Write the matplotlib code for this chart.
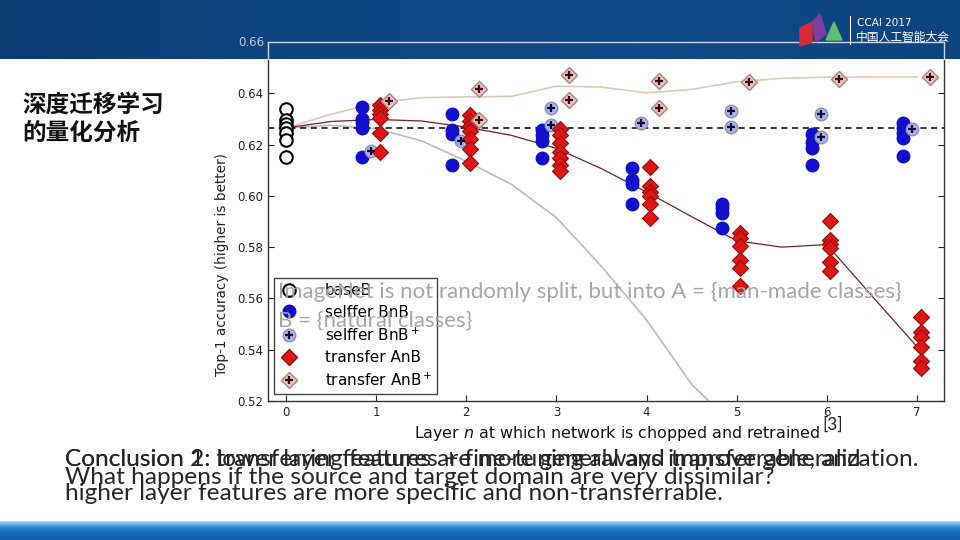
import numpy as np
import matplotlib
matplotlib.use("Agg")
import matplotlib.pyplot as plt
from matplotlib.lines import Line2D
from matplotlib.legend_handler import HandlerTuple
from matplotlib.patches import Polygon
from matplotlib.colors import LinearSegmentedColormap

# данные
layers = [1, 2, 3, 4, 5, 6, 7]
baseB = [0.6340, 0.6295, 0.6279, 0.6264, 0.6244, 0.6219, 0.6151]
base_mean = 0.6265

selffer_bnb = [
    [0.6348, 0.6299, 0.6287, 0.6266, 0.6153],
    [0.6318, 0.6256, 0.6243, 0.6120],
    [0.6256, 0.6236, 0.6213, 0.6148],
    [0.6107, 0.6061, 0.6048, 0.5970],
    [0.5968, 0.5951, 0.5934, 0.5873],
    [0.6243, 0.6210, 0.6185, 0.6120],
    [0.6286, 0.6265, 0.6245, 0.6224, 0.6156],
]
selffer_bnb_plus = [
    [0.6175], [0.6214], [0.6343, 0.6278], [0.6286],
    [0.6330, 0.6269], [0.6318, 0.6230], [0.6262],
]
transfer_anb = [
    [0.6353, 0.6334, 0.6318, 0.6303, 0.6245, 0.6170],
    [0.6316, 0.6293, 0.6273, 0.6252, 0.6221, 0.6182, 0.6128],
    [0.6262, 0.6236, 0.6205, 0.6172, 0.6149, 0.6121, 0.6096],
    [0.6113, 0.6038, 0.6015, 0.5999, 0.5968, 0.5912],
    [0.5857, 0.5834, 0.5804, 0.5749, 0.5717, 0.5648],
    [0.5902, 0.5827, 0.5812, 0.5796, 0.5743, 0.5707],
    [0.5526, 0.5468, 0.5451, 0.5412, 0.5357, 0.5327],
]
transfer_anb_plus = [
    [0.6370], [0.6416, 0.6295], [0.6473, 0.6373], [0.6447, 0.6344],
    [0.6444], [0.6457], [0.6464],
]

# линии тренда (точки через 0.5 слоя)
trend_x = [0, 0.5, 1, 1.5, 2, 2.5, 3, 3.5, 4, 4.5, 5, 5.5, 6, 6.5, 7]
anb_trend = [0.6265, 0.6290, 0.6298, 0.6292, 0.6268, 0.6236, 0.6185, 0.6106,
             0.6015, 0.5919, 0.5825, 0.5800, 0.5810, 0.5610, 0.5412]
anb_plus_trend = [0.6265, 0.6318, 0.6362, 0.6383, 0.6386, 0.6388, 0.6428, 0.6424,
                  0.6402, 0.6415, 0.6445, 0.6458, 0.6463, 0.6464, 0.6464]
gray_x = [0, 0.5, 1, 1.5, 2, 2.5, 3, 3.5, 4, 4.5, 4.75]
gray_trend = [0.6265, 0.6275, 0.6262, 0.6215, 0.6135, 0.6045, 0.5915, 0.5725,
              0.5516, 0.5265, 0.5180]

legend_labels = ["baseB", "selffer BnB", "selffer BnB$^+$", "transfer AnB", "transfer AnB$^+$"]

C_BLUE = "#0f0fcc"
C_BLUE_L = "#aeb2dc"
C_RED = "#dd1515"
C_PINK = "#e6c4c0"
CJK = ["Noto Sans CJK SC", "DejaVu Sans"]

fig = plt.figure(figsize=(9.6, 5.4), dpi=100)
fig.patch.set_facecolor("white")

ax = fig.add_axes([268 / 960, 1 - 401 / 540, 676 / 960, 359 / 540], zorder=1)

# линии
ax.plot(gray_x, gray_trend, color="#b9b9c6", lw=1.2, zorder=1)
ax.plot(trend_x, anb_plus_trend, color="#e2c8b8", lw=1.2, zorder=1)
ax.plot(trend_x, anb_trend, color="#7a1f1f", lw=0.9, zorder=2)
ax.axhline(base_mean, color="black", ls="--", lw=1.1, dashes=(4, 3), zorder=2)

# точки
ax.plot([0] * len(baseB), baseB, "o", ms=9, mfc="white", mec="black", mew=1.5, zorder=3)
for n, vals in zip(layers, selffer_bnb):
    ax.plot([n - 0.16] * len(vals), vals, "o", ms=9, color=C_BLUE, mec=C_BLUE, zorder=3)
for n, vals in zip(layers, selffer_bnb_plus):
    ax.plot([n - 0.06] * len(vals), vals, "o", ms=9, mfc=C_BLUE_L, mec="#8a8fc4", mew=1, zorder=4)
    ax.plot([n - 0.06] * len(vals), vals, "+", ms=6, color="#0a0a40", mew=1.6, zorder=5)
for n, vals in zip(layers, transfer_anb):
    ax.plot([n + 0.04] * len(vals), vals, "D", ms=8, color=C_RED, mec="#9a0a0a", mew=0.8, zorder=4)
for n, vals in zip(layers, transfer_anb_plus):
    ax.plot([n + 0.14] * len(vals), vals, "D", ms=8, mfc=C_PINK, mec="#b08080", mew=1, zorder=4)
    ax.plot([n + 0.14] * len(vals), vals, "+", ms=6, color="#3a0a0a", mew=1.6, zorder=5)

ax.set_xlim(-0.2, 7.3)
ax.set_ylim(0.52, 0.66)
ax.set_xticks(range(0, 8))
yt = np.arange(0.52, 0.6601, 0.02)
ax.set_yticks(yt)
ax.set_yticklabels([f"{v:.2f}" for v in yt])
ax.tick_params(direction="in", top=True, right=True, labelsize=8.5, length=4, colors="#222222")
for s in ax.spines.values():
    s.set_color("#333333")
    s.set_linewidth(1)

ax.set_ylabel("Top-1 accuracy (higher is better)", fontsize=9.8, color="#222222")
ax.yaxis.set_label_coords(-0.058, 0.38)
ax.set_xlabel("Layer $n$ at which network is chopped and retrained", fontsize=11.4, color="#111111")
ax.xaxis.set_label_coords(0.516, -0.065)

h_base = Line2D([], [], ls="", marker="o", ms=9, mfc="white", mec="black", mew=1.5)
h_bnb = Line2D([], [], ls="", marker="o", ms=9, color=C_BLUE)
h_bnbp = (Line2D([], [], ls="", marker="o", ms=9, mfc=C_BLUE_L, mec="#8a8fc4"),
          Line2D([], [], ls="", marker="+", ms=6, color="#0a0a40", mew=1.6))
h_anb = Line2D([], [], ls="", marker="D", ms=8, color=C_RED, mec="#9a0a0a")
h_anbp = (Line2D([], [], ls="", marker="D", ms=8, mfc=C_PINK, mec="#b08080"),
          Line2D([], [], ls="", marker="+", ms=6, color="#3a0a0a", mew=1.6))
leg = ax.legend([h_base, h_bnb, h_bnbp, h_anb, h_anbp], legend_labels,
                handler_map={tuple: HandlerTuple(ndivide=1)},
                loc="lower left", bbox_to_anchor=(0.009, 0.0195), borderaxespad=0,
                fontsize=11, fancybox=False, framealpha=1, edgecolor="#444444",
                handlelength=1.2, handletextpad=1.75, labelspacing=0.42, borderpad=0.35)
leg.get_frame().set_linewidth(1)

# слой оформления слайда поверх графика
ov = fig.add_axes([0, 0, 1, 1], zorder=2)
ov.axis("off")
ov.patch.set_alpha(0)

cm_head = LinearSegmentedColormap.from_list("h", ["#0b3c72", "#0d4683", "#0f4a8a", "#0c447f"])
ov.imshow(np.linspace(0, 1, 256).reshape(1, -1), cmap=cm_head, extent=[0, 960, 59, 0],
          aspect="auto", zorder=1)
cm_foot = LinearSegmentedColormap.from_list("f", ["#a8e0f6", "#2b86d0", "#1667b6", "#1260ac"])
ov.imshow(np.linspace(0, 1, 64).reshape(-1, 1), cmap=cm_foot, extent=[0, 960, 540, 521],
          aspect="auto", zorder=1)
ov.set_xlim(0, 960)
ov.set_ylim(540, 0)

# рамка графика, видная сквозь шапку
ov.plot([268, 944], [42, 42], color="#c9d6e6", lw=1, zorder=2)
ov.plot([268, 268], [42, 59], color="#c9d6e6", lw=1, zorder=2)
ov.plot([944, 944], [42, 59], color="#c9d6e6", lw=1, zorder=2)
ov.text(264, 42, "0.66", color="#b9c8da", fontsize=8.5, ha="right", va="center", zorder=2)

# логотип
ov.add_patch(Polygon([[800, 28], [812, 22], [812, 42], [800, 46]], closed=True, color="#d8283a", zorder=2))
ov.add_patch(Polygon([[812, 22], [820, 14], [826, 34], [816, 42]], closed=True, color="#7b3fa0", zorder=2))
ov.add_patch(Polygon([[826, 40], [834, 22], [842, 40]], closed=True, color="#5cc06a", zorder=2))
ov.plot([850, 850], [16, 44], color="white", lw=0.8, zorder=2)
ov.text(857, 23, "CCAI 2017", color="white", fontsize=7.5, va="center", family="DejaVu Sans", zorder=3)
ov.text(856, 38, "中国人工智能大会", color="white", fontsize=8.5, va="center", family=CJK, zorder=3)

# заголовок
ov.text(22, 105, "深度迁移学习", fontsize=17, fontweight="bold", va="center", family=CJK, color="#111111")
ov.text(22, 133, "的量化分析", fontsize=17, fontweight="bold", va="center", family=CJK, color="#111111")

# серая надпись поверх графика
ov.text(278, 292, "ImageNet is not randomly split, but into A = {man-made classes}",
        fontsize=16, color="#a6a6a6", family="Lato", va="center", zorder=3)
ov.text(278, 321, "B = {natural classes}", fontsize=16, color="#a6a6a6",
        family="Lato", va="center", zorder=3)

ov.text(822, 425, "[3]", fontsize=12.5, color="#222222", family="Lato", va="center")

# выводы внизу (наложенные друг на друга строки)
ov.text(65, 460, "Conclusion 2: transferring features + fine-tuning always improve generalization.",
        fontsize=17.6, color="#262626", family="Lato", va="center")
ov.text(65, 460, "Conclusion 1: lower layer features are more general and transferrable, and",
        fontsize=17.6, color="#262626", family="Lato", va="center")
ov.text(65, 478, "What happens if the source and target domain are very dissimilar?",
        fontsize=17.6, color="#262626", family="Lato", va="center")
ov.text(65, 493, "higher layer features are more specific and non-transferrable.",
        fontsize=17.6, color="#262626", family="Lato", va="center")

fig.savefig("out.png", dpi=100)
